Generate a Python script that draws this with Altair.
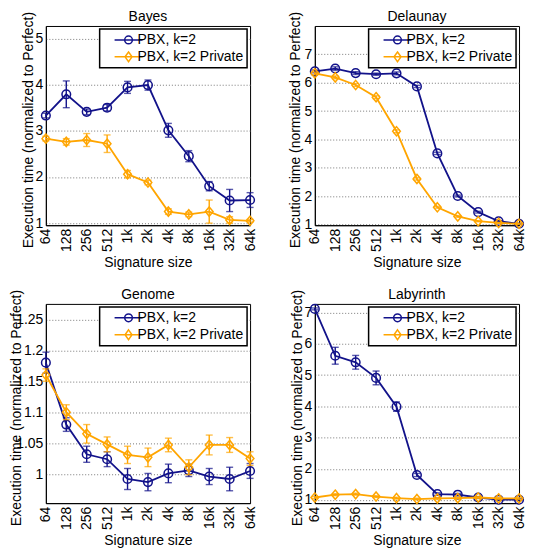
import altair as alt
import pandas as pd

sizes = ["64", "128", "256", "512", "1k", "2k", "4k", "8k", "16k", "32k", "64k"]
series_names = ["PBX, k=2", "PBX, k=2 Private"]

bayes_pbx = [3.33, 3.79, 3.41, 3.50, 3.94, 3.99, 3.01, 2.45, 1.80, 1.49, 1.50]
bayes_pbx_err = [0.05, 0.29, 0.06, 0.07, 0.13, 0.11, 0.15, 0.12, 0.10, 0.24, 0.16]
bayes_priv = [2.83, 2.76, 2.80, 2.72, 2.06, 1.88, 1.25, 1.19, 1.25, 1.07, 1.05]
bayes_priv_err = [0.05, 0.07, 0.14, 0.19, 0.08, 0.05, 0.06, 0.05, 0.25, 0.07, 0.03]

del_pbx = [6.40, 6.50, 6.34, 6.30, 6.33, 5.87, 3.51, 2.01, 1.44, 1.12, 1.03]
del_pbx_err = [0.05, 0.06, 0.05, 0.04, 0.05, 0.04, 0.04, 0.03, 0.03, 0.02, 0.02]
del_priv = [6.33, 6.19, 5.92, 5.49, 4.29, 2.61, 1.61, 1.29, 1.12, 1.06, 1.03]
del_priv_err = [0.05, 0.05, 0.05, 0.05, 0.05, 0.04, 0.03, 0.03, 0.02, 0.02, 0.02]

gen_pbx = [1.180, 1.080, 1.032, 1.024, 0.992, 0.987, 1.001, 1.006, 0.996, 0.992, 1.005]
gen_pbx_err = [0.017, 0.011, 0.013, 0.012, 0.017, 0.014, 0.015, 0.010, 0.013, 0.019, 0.012]
gen_priv = [1.160, 1.100, 1.065, 1.048, 1.031, 1.027, 1.047, 1.011, 1.047, 1.047, 1.025]
gen_priv_err = [0.010, 0.012, 0.015, 0.012, 0.014, 0.015, 0.011, 0.012, 0.016, 0.012, 0.011]

lab_pbx = [7.12, 5.62, 5.41, 4.91, 3.99, 1.80, 1.19, 1.17, 1.08, 1.01, 1.01]
lab_pbx_err = [0.03, 0.27, 0.22, 0.22, 0.15, 0.05, 0.04, 0.04, 0.03, 0.03, 0.03]
lab_priv = [1.08, 1.17, 1.19, 1.11, 1.06, 1.03, 1.05, 1.06, 1.08, 1.05, 1.05]
lab_priv_err = [0.03, 0.03, 0.03, 0.03, 0.03, 0.03, 0.03, 0.03, 0.03, 0.03, 0.03]

BLUE = "#12128a"
ORANGE = "#ffa500"
FONT = "Liberation Sans"
CIRCLE_LEG = "M-2,0L2,0M-0.55,0A0.55,0.55,0,1,0,0.55,0A0.55,0.55,0,1,0,-0.55,0"
DIAMOND_LEG = "M-2,0L2,0M0,-0.7L0.5,0L0,0.7L-0.5,0Z"
DIAMOND_MARK = "M0,-1.2L1,0L0,1.2L-1,0Z"
PW, PH = 205, 200


def frame(values, errs):
    return pd.DataFrame({
        "size": sizes,
        "value": values,
        "lo": [v - e for v, e in zip(values, errs)],
        "hi": [v + e for v, e in zip(values, errs)],
    })


def panel(title, pbx, pbx_err, priv, priv_err, ydomain, yticks, title_x):
    xenc = alt.X("size:O", sort=sizes,
                 scale=alt.Scale(type="point", padding=0),
                 axis=alt.Axis(title="Signature size", labelAngle=270))
    yscale = alt.Scale(domain=ydomain, zero=False, nice=False)
    yaxis = alt.Axis(title="Execution time (normalized to Perfect)", values=yticks,
                     format="~g", titleX=title_x, titleY=PH / 2 + 4, titleBaseline="middle")

    def Y(field):
        return alt.Y(field + ":Q", scale=yscale, axis=yaxis)

    layers = []
    for vals, errs, color, shape, sz in [(pbx, pbx_err, BLUE, "circle", 75),
                                         (priv, priv_err, ORANGE, DIAMOND_MARK, 60)]:
        base = alt.Chart(frame(vals, errs))
        layers.append(base.mark_rule(color=color, strokeWidth=1.4).encode(x=xenc, y=Y("lo"), y2="hi:Q"))
        layers.append(base.mark_tick(color=color, size=7, thickness=1.4).encode(x=xenc, y=Y("lo")))
        layers.append(base.mark_tick(color=color, size=7, thickness=1.4).encode(x=xenc, y=Y("hi")))
        layers.append(base.mark_line(color=color, strokeWidth=1.8).encode(x=xenc, y=Y("value")))
        layers.append(base.mark_point(shape=shape, size=sz, color=color, strokeWidth=1.5,
                                      filled=False, opacity=1).encode(x=xenc, y=Y("value")))
    leg = alt.Legend(title=None, orient="top-right", symbolSize=196)
    legend_layer = alt.Chart(pd.DataFrame({"series": series_names})).transform_filter("false").mark_point(
        filled=False, strokeWidth=1.5, size=196, opacity=1).encode(
        color=alt.Color("series:N", scale=alt.Scale(domain=series_names, range=[BLUE, ORANGE]), legend=leg),
        shape=alt.Shape("series:N", scale=alt.Scale(domain=series_names, range=[CIRCLE_LEG, DIAMOND_LEG]), legend=leg),
    )
    layers.append(legend_layer)
    return alt.layer(*layers).properties(width=PW, height=PH, title=title)


p1 = panel("Bayes", bayes_pbx, bayes_pbx_err, bayes_priv, bayes_priv_err, [0.955, 5.27], [1, 2, 3, 4, 5], -17)
p2 = panel("Delaunay", del_pbx, del_pbx_err, del_priv, del_priv_err, [0.98, 8.0], [1, 2, 3, 4, 5, 6, 7], -19)
p3 = panel("Genome", gen_pbx, gen_pbx_err, gen_priv, gen_priv_err, [0.953, 1.275],
           [1.0, 1.05, 1.1, 1.15, 1.2, 1.25], -29)
p4 = panel("Labyrinth", lab_pbx, lab_pbx_err, lab_priv, lab_priv_err, [0.9, 7.28], [1, 2, 3, 4, 5, 6, 7], -17)

chart = alt.concat(p1, p2, p3, p4, columns=2, spacing={"row": 79, "column": 65}, bounds="flush").resolve_scale(
    color="independent", shape="independent").resolve_legend(color="independent", shape="independent").properties(
    padding={"left": 1, "top": 0, "right": 0, "bottom": 0}
).configure(font=FONT).configure_view(stroke="black", strokeWidth=1).configure_axis(
    labelFont=FONT, titleFont=FONT, labelFontSize=14, titleFontSize=14, titleFontWeight="normal",
    labelColor="black", titleColor="black", domainColor="black", ticks=False, labelPadding=3,
).configure_axisX(gridColor="black", gridDash=[1, 2], gridOpacity=0.9, titlePadding=4).configure_axisY(
    gridColor="#777777", gridDash=[1, 2], gridOpacity=1
).configure_title(font=FONT, fontSize=14, fontWeight="normal", offset=-13, color="black", frame="group").configure_legend(
    strokeColor="black", fillColor="white", padding=3, labelFont=FONT, labelFontSize=14, labelColor="black",
    symbolStrokeWidth=1.5, cornerRadius=0, offset=3, rowPadding=2, symbolOffset=18, labelOffset=1,
    strokeWidth=1.5
)

chart.save("out.html", embed_options={"renderer": "svg", "actions": False})
